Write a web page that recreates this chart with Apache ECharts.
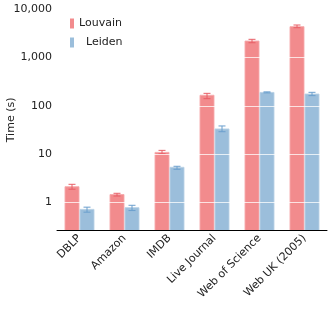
<!DOCTYPE html>
<html><head><meta charset="utf-8">
<script src="https://cdn.jsdelivr.net/npm/echarts@6/dist/echarts.min.js"></script>
<style>html,body{margin:0;padding:0;background:#fff}#c{width:328px;height:313px}</style>
</head><body><div id="c"></div>
<script>
const categories = ['DBLP','Amazon','IMDB','Live Journal','Web of Science','Web UK (2005)'];
const louvain   = [2.12, 1.46, 10.9, 166, 2200, 4370];
const louvainLo = [1.88, 1.36, 10.2, 141, 2030, 4160];
const louvainHi = [2.38, 1.55, 12.0, 182, 2390, 4730];
const leiden    = [0.72, 0.78, 5.35, 33.3, 190, 176];
const leidenLo  = [0.63, 0.68, 4.87, 29.2, 186, 163];
const leidenHi  = [0.80, 0.875, 5.62, 38.4, 195, 191];
const yTicks = [1, 10, 100, 1000, 10000];
const yMin = 0.263, yMax = 10000;

function fmt(v){ return String(v).replace(/\B(?=(\d{3})+(?!\d))/g, ','); }

function makeRender(offset, fill, stroke, errColor){
  return function(params, api){
    const ci = api.value(0), v = api.value(1), lo = api.value(2), hi = api.value(3);
    const band = api.size([1, 0])[0];
    const top = api.coord([ci, v]);
    const base = api.coord([ci, yMin]);
    const w = band * 14 / 45;
    const cx = top[0] + offset * band / 45;
    const pLo = api.coord([ci, lo]), pHi = api.coord([ci, hi]);
    const cap = band * 7 / 45;
    return {
      type: 'group',
      children: [
        {type:'rect', shape:{x: cx - w/2, y: top[1], width: w, height: base[1] - top[1]},
         style:{fill: fill, stroke: stroke, lineWidth: 1}},
        {type:'line', shape:{x1: cx, y1: pLo[1], x2: cx, y2: pHi[1]}, style:{stroke: errColor, lineWidth: 1}, z2: 10},
        {type:'line', shape:{x1: cx - cap/2, y1: pLo[1], x2: cx + cap/2, y2: pLo[1]}, style:{stroke: errColor, lineWidth: 1}, z2: 10},
        {type:'line', shape:{x1: cx - cap/2, y1: pHi[1], x2: cx + cap/2, y2: pHi[1]}, style:{stroke: errColor, lineWidth: 1}, z2: 10}
      ]
    };
  };
}

const chart = echarts.init(document.getElementById('c'), null, {renderer: 'canvas'});
const font = 'DejaVu Sans';
chart.setOption({
  animation: false,
  textStyle: {fontFamily: font},
  grid: {left: 57, right: 1, top: 9.3, bottom: 82.5, containLabel: false, outerBoundsMode: 'none'},
  legend: {
    orient: 'vertical', left: 65, top: 13,
    icon: 'rect', itemWidth: 4, itemHeight: 10, itemGap: 8,
    textStyle: {fontFamily: font, fontSize: 11, color: '#222'},
    formatter: n => n === 'Leiden' ? '  Leiden' : n,
    data: ['Louvain', 'Leiden']
  },
  xAxis: {
    type: 'category', data: categories, z: 5,
    axisLine: {lineStyle: {color: '#000', width: 1}},
    axisTick: {show: false},
    axisLabel: {rotate: 45, fontSize: 11, color: '#222', margin: 6, interval: 0, fontFamily: font},
    splitLine: {show: false}
  },
  yAxis: {
    type: 'log', min: yMin, max: yMax, logBase: 10, z: 4,
    name: 'Time (s)', nameLocation: 'middle', nameGap: 40, nameMoveOverlap: false,
    nameTextStyle: {fontSize: 11, color: '#222', fontFamily: font},
    axisLine: {show: false}, axisTick: {show: false},
    axisLabel: {fontSize: 11, color: '#222', margin: 5, fontFamily: font,
      formatter: v => {
        for (const t of yTicks) if (Math.abs(v - t) / t < 1e-6) return fmt(t);
        return '';
      }},
    splitLine: {show: true, lineStyle: {color: 'rgba(255,255,255,0.75)', width: 1}}
  },
  series: [
    {name: 'Louvain', type: 'custom', itemStyle: {color: '#f28b8d'},
     renderItem: makeRender(-7.5, '#f28b8d', 'rgba(246,170,172,0.9)', '#e85f67'),
     encode: {x: 0, y: 1},
     data: categories.map((c, i) => [i, louvain[i], louvainLo[i], louvainHi[i]])},
    {name: 'Leiden', type: 'custom', itemStyle: {color: '#9bbedb'},
     renderItem: makeRender(7.5, '#9bbedb', 'rgba(185,210,230,0.9)', '#6b9fcd'),
     encode: {x: 0, y: 1},
     data: categories.map((c, i) => [i, leiden[i], leidenLo[i], leidenHi[i]])}
  ]
});
</script></body></html>
